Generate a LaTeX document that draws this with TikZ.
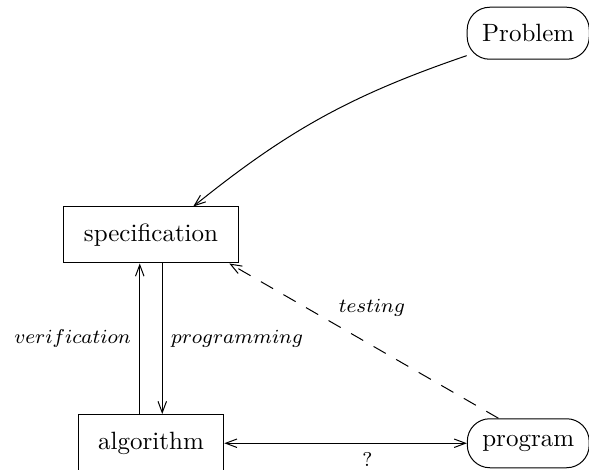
\documentclass[tikz,border=0pt]{standalone}
\usetikzlibrary{arrows.meta,positioning}
\begin{document}
\begin{tikzpicture}
		\tikzstyle{box}=[rectangle, draw=black!100, minimum height = 22.4pt, inner xsep = 8pt]
		\tikzstyle{round}=[rectangle, rounded corners = 9pt, draw=black!100, minimum height = 19.6pt, inner xsep = 6pt]
		\tikzstyle{connect}=[>={Straight Barb[length=4.5pt, width=3.4pt]}]
		\tikzstyle{lab}=[font=\fontsize{8.5}{10}\selectfont]
		\useasboundingbox (0,0) rectangle (235.6pt,187.6pt);
		\node[box]   (spec)    at (60.4pt,93.6pt) {specification};
		\node[box, minimum height = 23pt] (algo) [below=60.2pt of spec] {algorithm};
		\node[round] (program) [right=97pt of algo] {program};
		\node[round, minimum height = 20.8pt] (problem) [above=143.4pt of program] {Problem};
		
		\path 
		(problem.200) edge [connect, ->, bend right=10] (spec.34)
		
		([xshift=-4.5pt]algo.north) edge [connect, ->] node[left, lab] {$verification$} ([xshift=-4.5pt]spec.south)
		([xshift=4.5pt]spec.south) edge [connect, ->] node[right, lab] {$programming$} ([xshift=4.5pt]algo.north)
		
		(program.140) edge [connect, ->, dash pattern=on 5.6pt off 4.8pt] node[above=8pt, pos=0.47, lab] {$testing$} (spec.-20)
		(algo) edge [connect, <->] node[below, pos=0.59, font=\footnotesize] {?} (program)
		;
		
\end{tikzpicture}
\end{document}
